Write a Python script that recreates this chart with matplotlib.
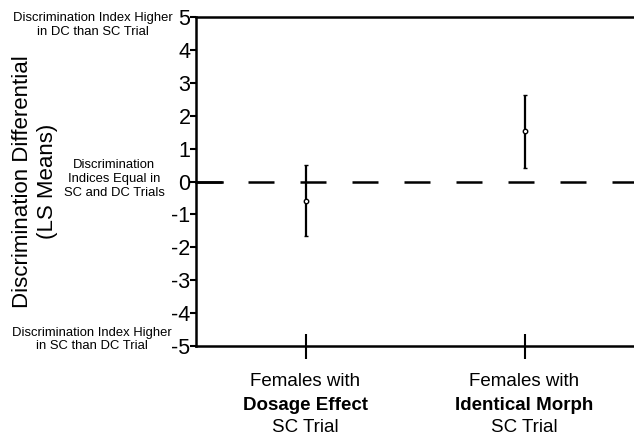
import matplotlib
matplotlib.use("Agg")
import matplotlib.pyplot as plt

plt.rcParams['font.family'] = ['Liberation Sans', 'DejaVu Sans']

groups_line1 = ["Females with", "Females with"]
groups_line2 = ["Dosage Effect", "Identical Morph"]
groups_line3 = ["SC Trial", "SC Trial"]
means = [-0.6, 1.52]
upper = [0.5, 2.62]
lower = [-1.67, 0.42]
yticks = [-5, -4, -3, -2, -1, 0, 1, 2, 3, 4, 5]

fig = plt.figure(figsize=(6.34, 4.37), dpi=100)
ax = fig.add_axes([196/634, 91/437, 1 - 196/634, (346-17)/437])

x = list(range(len(means)))
yerr = [[m - l for m, l in zip(means, lower)], [u - m for m, u in zip(means, upper)]]
ax.errorbar(x, means, yerr=yerr, fmt='o', color='black', ecolor='black',
            elinewidth=1.6, capsize=1.5, capthick=1.6, markersize=3.2,
            markerfacecolor='white', markeredgecolor='black', markeredgewidth=1.0, zorder=3)

ax.axhline(0, color='black', lw=1.8, dashes=(10.4, 10.4), zorder=2)

ax.set_xlim(-0.5, 1.5)
ax.set_ylim(-5, 5)
ax.set_yticks(yticks)
ax.set_yticklabels([str(t) for t in yticks], fontsize=15.5)
ax.set_xticks(x)
ax.set_xticklabels([])
ax.tick_params(axis='y', direction='out', length=4, width=1.5, pad=0)
ax.tick_params(axis='x', direction='inout', length=18, width=1.5)

for s in ['left', 'bottom', 'top']:
    ax.spines[s].set_linewidth(1.8)
ax.spines['right'].set_visible(False)

# longer zero tick on the left
ax.plot([-0.5, -0.5 + 26/438*2], [0, 0], color='black', lw=1.8, clip_on=False, zorder=2)

ax.yaxis.set_label_coords(-138/438, 0.5)
ax.set_ylabel("Discrimination Differential\n(LS Means)", fontsize=16, linespacing=1.25)

trans = ax.get_xaxis_transform()
for xi, a, b, c in zip(x, groups_line1, groups_line2, groups_line3):
    ax.text(xi, -0.109, a, transform=trans, ha='center', va='center', fontsize=13.5)
    ax.text(xi, -0.182, b, transform=trans, ha='center', va='center', fontsize=13.5, fontweight='bold')
    ax.text(xi, -0.249, c, transform=trans, ha='center', va='center', fontsize=13.5)

fig.text(93/634, 1 - 25/437, "Discrimination Index Higher\nin DC than SC Trial",
         ha='center', va='center', fontsize=9.4, linespacing=1.2)
fig.text(114/634, 1 - 179/437, "Discrimination\nIndices Equal in\nSC and DC Trials",
         ha='center', va='center', fontsize=9.4, linespacing=1.2)
fig.text(92/634, 1 - 339.5/437, "Discrimination Index Higher\nin SC than DC Trial",
         ha='center', va='center', fontsize=9.4, linespacing=1.2)

fig.savefig("out.png", dpi=100)
